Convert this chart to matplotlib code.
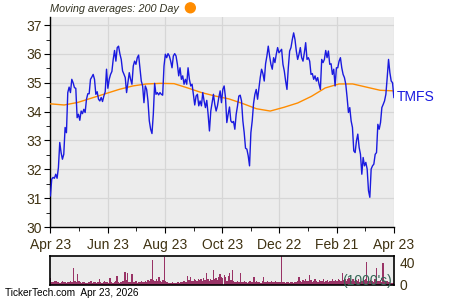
import numpy as np
import matplotlib
matplotlib.use("Agg")
import matplotlib.pyplot as plt
from matplotlib.patches import Ellipse

plt.rcParams["font.family"] = ["Liberation Sans", "DejaVu Sans"]

# daily closing prices (Apr 23 -> Apr 23)
price = [
    31.08, 31.66, 31.72, 31.69, 31.83, 31.69, 32.06, 32.93, 32.58, 32.35,
    32.52, 33.45, 33.27, 34.66, 34.85, 34.66, 35.12, 35.00, 34.83, 34.81,
    33.79, 33.91, 33.70, 34.02, 33.93, 34.08, 33.97, 34.43, 34.62, 34.62,
    35.12, 35.20, 35.29, 35.12, 34.60, 34.69, 34.43, 34.37, 34.49, 34.35,
    34.54, 34.69, 35.47, 34.81, 35.12, 35.29, 35.39, 35.81, 36.12, 35.75,
    36.22, 36.27, 36.00, 35.81, 35.41, 35.30, 35.18, 34.66, 35.00, 35.35,
    35.12, 34.95, 35.58,
    35.75, 35.64, 35.87, 35.96, 35.52, 35.06, 34.89, 34.31, 34.89, 34.77,
    34.37, 33.68, 33.39, 33.24, 33.91, 34.98, 34.60, 34.66, 34.58, 34.66,
    34.60, 34.57, 35.58, 35.99, 35.87, 36.01, 35.93, 35.75, 35.52, 35.93,
    36.01, 35.93, 35.64, 35.24, 35.52, 35.12, 35.24, 34.95, 35.12, 34.95,
    35.52, 35.12, 34.89, 34.95, 34.60, 34.23, 34.54, 34.60, 34.20, 34.37,
    34.20, 34.66, 34.37, 34.14, 34.39, 33.91, 33.33, 34.02, 34.31, 34.60,
    34.25, 34.02, 34.20,
    34.49, 34.72, 34.31, 34.77, 34.89, 34.49, 33.62, 33.91, 34.16, 33.68,
    33.62, 33.66, 33.39, 33.91, 34.20, 34.54, 34.57, 34.37, 33.68, 33.27,
    32.73, 32.70, 32.47, 32.12, 33.27, 33.68, 34.28, 34.60, 34.77, 34.43,
    34.81, 35.18, 35.47, 35.32, 35.06, 35.66, 35.93, 36.27, 35.93, 35.64,
    35.47, 35.87, 35.70, 35.99, 36.22, 36.04, 36.10, 36.16, 35.64, 35.41,
    35.06, 34.77, 35.52, 36.10, 36.22, 36.50, 36.73, 36.50, 36.10, 35.81,
    35.99, 36.22, 35.87, 35.75, 36.04, 36.39,
    35.81, 35.87, 35.75, 35.29, 35.32, 35.12, 35.24, 35.06, 35.18, 34.95,
    34.77, 35.81, 35.70, 35.81, 36.12, 35.87, 36.10, 35.64, 35.66, 35.29,
    35.47, 34.89, 35.52, 35.52, 35.75, 35.87, 35.52, 35.29, 35.18, 34.95,
    34.49, 33.97, 34.14, 33.68, 33.45, 32.64, 32.58, 32.99, 33.22, 32.76,
    32.52, 31.83, 32.41, 32.12, 32.24, 32.01, 31.26, 31.03, 32.01, 32.12,
    32.18, 32.52, 32.58, 33.56, 33.39, 33.62, 34.14, 34.25, 34.37, 34.60,
    35.18, 35.81, 35.35, 35.06, 35.00, 34.49,
]

# 200 day moving average, sampled evenly across the year
ma200 = [
    34.27, 34.23, 34.32, 34.47, 34.62, 34.77, 34.89, 34.96, 34.98, 34.97,
    34.82, 34.66, 34.54, 34.44, 34.28, 34.10, 34.02, 34.15, 34.30, 34.53,
    34.82, 34.96, 34.96, 34.85, 34.74, 34.72,
]

# daily volume (1000's)
volume = [
    12, 6, 5, 8, 7, 5, 6, 4, 5, 7, 6, 5, 4, 6, 5, 7, 6, 30, 8, 6,
    20, 7, 5, 4, 6, 5, 3, 4, 6, 5, 7, 4, 5, 6, 4, 5, 10, 6, 4, 5,
    7, 5, 6, 4, 12, 5, 4, 6, 7, 16, 5, 4, 6, 8, 7, 24, 9, 22, 6, 5,
    19, 6, 5, 7, 4, 6, 5, 8, 6, 5, 7, 6, 9, 8, 10, 44, 9, 8, 10, 7,
    15, 8, 6, 9, 50, 7, 5, 4, 3, 4, 5, 3, 4, 3, 5, 4, 6, 5, 7, 8,
    6, 16, 9, 14, 8, 7, 10, 9, 8, 11, 9, 10, 8, 12, 9, 21, 10, 8, 11, 9,
    27, 10, 12, 9, 15, 20, 14, 12, 18, 15, 8, 16, 21, 9, 27, 7, 6, 5, 8, 6,
    21, 5, 6, 7, 5, 4, 6, 8, 5, 6, 14, 5, 7, 6, 5, 4, 8, 15, 6, 5,
    7, 6, 5, 8, 6, 5, 7, 6, 5, 6, 52, 6, 5, 4, 5, 6, 4, 5, 6, 4,
    5, 6, 7, 15, 8, 6, 9, 7, 10, 8, 7, 18, 9, 6, 8, 10, 7, 6, 9, 8,
    7, 10, 6, 8, 9, 6, 7, 8, 11, 7, 9, 8, 10, 9, 8, 21, 9, 11, 8, 10,
    12, 9, 8, 10, 7, 9, 8, 11, 6, 8, 7, 9, 10, 42, 8, 7, 9, 8, 6, 10,
    30, 8, 7, 9, 6, 39, 8, 5, 7, 6, 5, 4, 3, 4,
]

tick_labels = ["Apr 23", "Jun 23", "Aug 23", "Oct 23", "Dec 22", "Feb 21", "Apr 23"]
y_ticks = [30, 31, 32, 33, 34, 35, 36, 37]

span = 252
x_price = np.linspace(0, span, len(price))
x_ma = np.linspace(0, span, len(ma200))
x_vol = np.linspace(0, span, len(volume))
x_ticks = np.linspace(0, span, len(tick_labels))

txt = "#3f3212"
bg = "#ececec"
grid_c = "#d6d6d6"
blue = "#1a1adf"

fig = plt.figure(figsize=(4.5, 3), dpi=100)
ax = fig.add_axes([0.112, 0.2433, 0.7633, 0.70])
ax.set_facecolor(bg)
ax.plot(x_ma, ma200, color="#ff8c00", lw=1.0, zorder=3)
ax.plot(x_price, price, color=blue, lw=1.0, zorder=4)
ax.set_xlim(0, span)
ax.set_ylim(30, 37.28)
ax.set_xticks(x_ticks)
ax.set_xticklabels(tick_labels)
ax.set_xticks((x_ticks[:-1] + x_ticks[1:]) / 2, minor=True)
ax.set_yticks(y_ticks)
ax.set_yticks(np.arange(30.5, 37.1, 1), minor=True)
ax.grid(True, which="major", color=grid_c, lw=0.9)
ax.set_axisbelow(True)
for s in ["top", "right"]:
    ax.spines[s].set_visible(False)
for s in ["left", "bottom"]:
    ax.spines[s].set_color("black")
    ax.spines[s].set_linewidth(1.0)
ax.tick_params(axis="both", which="major", length=4, color="black",
               labelcolor=txt, labelsize=10, pad=2)
ax.tick_params(axis="both", which="minor", length=3, color="black")
ax.tick_params(axis="x", pad=4)

ax.text(span + 2, price[-1], "TMFS", color=blue,
        fontsize=10, va="center", ha="left", clip_on=False)

# volume panel
vax = fig.add_axes([0.112, 0.05, 0.7633, 0.0967])
vax.set_facecolor(bg)
vax.bar(x_vol, volume, width=span / len(volume) * 1.0, color="#993366", lw=0)
vax.set_xlim(0, span)
vax.set_ylim(0, 52)
vax.set_xticks([])
vax.yaxis.tick_right()
vax.set_yticks([0, 40])
vax.tick_params(axis="y", length=0, labelcolor=txt, labelsize=10, pad=4)
for s in vax.spines.values():
    s.set_color("black")
    s.set_linewidth(1.2)
vax.text(0.995, 0.14, "(1000's)", transform=vax.transAxes, ha="right",
         va="center", color="#336655", fontsize=10)

# header and footer
fig.text(0.112, 0.97, "Moving averages: 200 Day", fontsize=7.8, style="italic",
         color="#333322", va="center", ha="left")
fig.patches.append(Ellipse((0.423, 0.974), 0.022, 0.033, transform=fig.transFigure,
                           color="#ff8c00", figure=fig))
fig.text(0.012, 0.022, "TickerTech.com  Apr 23, 2026", fontsize=7.3,
         color="black", va="center", ha="left")

fig.savefig("out.png", dpi=100)
